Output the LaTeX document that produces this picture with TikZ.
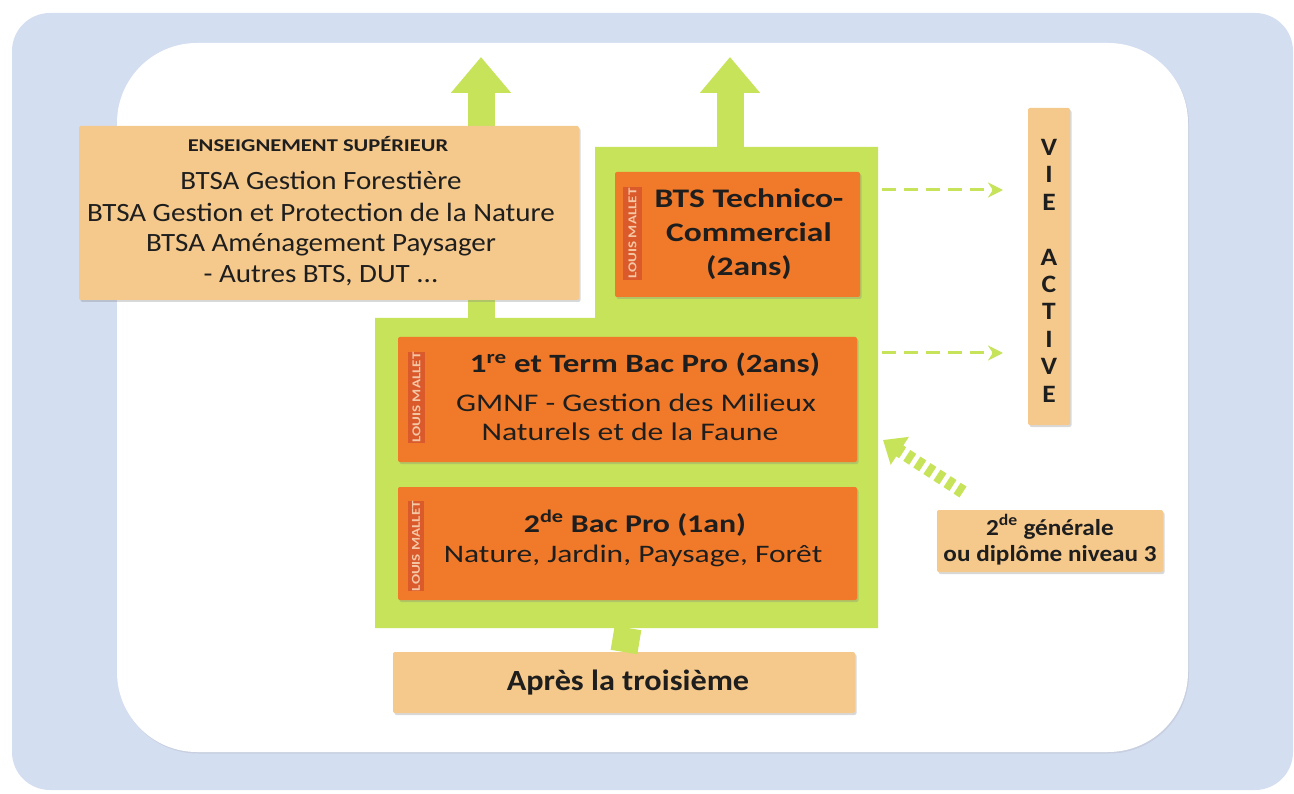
\documentclass[tikz,border=0pt]{standalone}
\usepackage{fontspec}
\setmainfont{Carlito}
\newfontfamily\wfa[FakeStretch=1.1]{Carlito}
\newfontfamily\wfb[FakeStretch=1.25]{Carlito}
\usetikzlibrary{arrows.meta,shadows}
\definecolor{bgblue}{HTML}{D4DEF1}
\definecolor{lgreen}{HTML}{C6E35A}
\definecolor{orng}{HTML}{F07A2A}
\definecolor{tanc}{HTML}{F5C98C}
\definecolor{tabc}{HTML}{DA5A2C}
\definecolor{tabt}{HTML}{F5C7A5}
\definecolor{txt}{HTML}{1E1E1E}
\newcommand{\fs}[1]{\fontsize{#1}{#1}\selectfont}
\begin{document}
\begin{tikzpicture}[x=1pt,y=-1pt,
  box/.style={draw=none, inner sep=0pt, outer sep=0pt, rounded corners=2pt,
    drop shadow={opacity=0.3, shadow xshift=1.5pt, shadow yshift=-2pt}},
  tanbox/.style={box, fill=tanc},
  orbox/.style={box, fill=orng},
  tabbox/.style={fill=tabc, inner sep=0pt, rotate=90, text=tabt,
    font=\wfb\bfseries\fs{12}},
  lbl/.style={anchor=base, inner sep=0pt, text=txt},
  bigarrow/.style={draw=lgreen, line width=27pt, -{Triangle[width=58pt,length=36pt]}},
  dasharrow/.style={draw=lgreen, line width=3pt, dash pattern=on 14pt off 8pt,
    -{Stealth[length=15pt,width=15pt]}},
  thickdash/.style={draw=lgreen, line width=13pt, dash pattern=on 7pt off 5pt,
    -{Triangle[width=32pt,length=20pt]}}
]
\useasboundingbox (0,0) rectangle (1294,794);
% background
\fill[bgblue, rounded corners=38pt] (12,13) rectangle (1293,790);
\fill[white, rounded corners=80pt, drop shadow={opacity=0.15, shadow xshift=1pt, shadow yshift=-1.5pt}] (117,43) rectangle (1188,752);
% green panel
\fill[lgreen] (375,318) -- (595,318) -- (595,147) -- (878,147) -- (878,628) -- (375,628) -- cycle;
% coordinates
\coordinate (gL) at (481,318);
\coordinate (upL) at (481,57);
\coordinate (gR) at (730,147);
\coordinate (upR) at (730,57);
\coordinate (gB) at (628,628);
\coordinate (d1s) at (882,190);
\coordinate (d1e) at (1003,190);
\coordinate (d2s) at (882,353);
\coordinate (d2e) at (1003,353);
\coordinate (ts) at (963,492);
\coordinate (te) at (883,440);
% big arrows
\draw[bigarrow] (gL) -- (upL);
\draw[bigarrow] (gR) -- (upR);
% boxes
\node[tanbox, minimum width=500pt, minimum height=174pt] (ens) at (329,213) {};
\node[orbox, minimum width=245pt, minimum height=125pt] (bts) at (737.5,234.5) {};
\node[orbox, minimum width=459pt, minimum height=125pt] (term) at (627.5,399.5) {};
\node[orbox, minimum width=459pt, minimum height=113pt] (sec) at (627.5,543.5) {};
\node[tanbox, minimum width=462pt, minimum height=61pt] (apres) at (624,682.5) {};
\node[tanbox, minimum width=42pt, minimum height=317pt] (vie) at (1049,266.5) {};
\node[tanbox, minimum width=226pt, minimum height=62pt] (gen) at (1050,541) {};
% bottom stub
\draw[lgreen, line width=27pt] (gB) -- (apres.north);
% tabs
\node[tabbox, minimum width=93pt, minimum height=19pt] (tab1) at (632.5,233.5) {LOUIS MALLET};
\node[tabbox, minimum width=91pt, minimum height=17pt] (tab2) at (416.5,397.5) {LOUIS MALLET};
\node[tabbox, minimum width=88pt, minimum height=16pt] (tab3) at (416,546) {LOUIS MALLET};
% dashed arrows
\draw[dasharrow] (d1s) -- (d1e);
\draw[dasharrow] (d2s) -- (d2e);
\draw[thickdash] (ts) -- (te);
% texts
\node[lbl, font=\wfb\bfseries\fs{18}] (e0) at (318,152) {ENSEIGNEMENT SUPÉRIEUR};
\node[lbl, font=\wfa\fs{26.4}] (e1) at (321,190) {BTSA Gestion Forestière};
\node[lbl, font=\wfa\fs{26.4}] (e2) at (321,222) {BTSA Gestion et Protection de la Nature};
\node[lbl, font=\wfa\fs{26.4}] (e3) at (321,252) {BTSA Aménagement Paysager};
\node[lbl, font=\wfa\fs{26.4}] (e4) at (321,283) {- Autres BTS, DUT ...};
\node[lbl, font=\wfb\bfseries\fs{26.8}] (b1) at (749,208) {BTS Technico-};
\node[lbl, font=\wfb\bfseries\fs{26.8}] (b2) at (749,242) {Commercial};
\node[lbl, font=\wfb\bfseries\fs{26.8}] (b3) at (749,276) {(2ans)};
\node[lbl, font=\wfb\bfseries\fs{26.4}] (p1) at (645,373) {1\textsuperscript{re} et Term Bac Pro (2ans)};
\node[lbl, font=\wfb\fs{25.4}] (p2) at (636,412) {GMNF - Gestion des Milieux};
\node[lbl, font=\wfb\fs{25.4}] (p3) at (630,440) {Naturels et de la Faune};
\node[lbl, font=\wfb\bfseries\fs{25.5}] (s1) at (635,532) {2\textsuperscript{de} Bac Pro (1an)};
\node[lbl, font=\wfb\fs{25.2}] (s2) at (633,562) {Nature, Jardin, Paysage, Forêt};
\node[lbl, font=\wfa\bfseries\fs{29.3}] (a1) at (628,690) {Après la troisième};
\node[anchor=north, inner sep=0pt, text=txt, align=center, font=\wfa\bfseries\fontsize{25}{27.4}\selectfont] (vt) at (1049,139) {V\\I\\E\\[27.4pt]A\\C\\T\\I\\V\\E};
\node[lbl, font=\wfa\bfseries\fs{22.9}] (g1) at (1050,535) {2\textsuperscript{de} générale};
\node[lbl, font=\wfa\bfseries\fs{22.9}] (g2) at (1050,561) {ou diplôme niveau 3};
\end{tikzpicture}
\end{document}
